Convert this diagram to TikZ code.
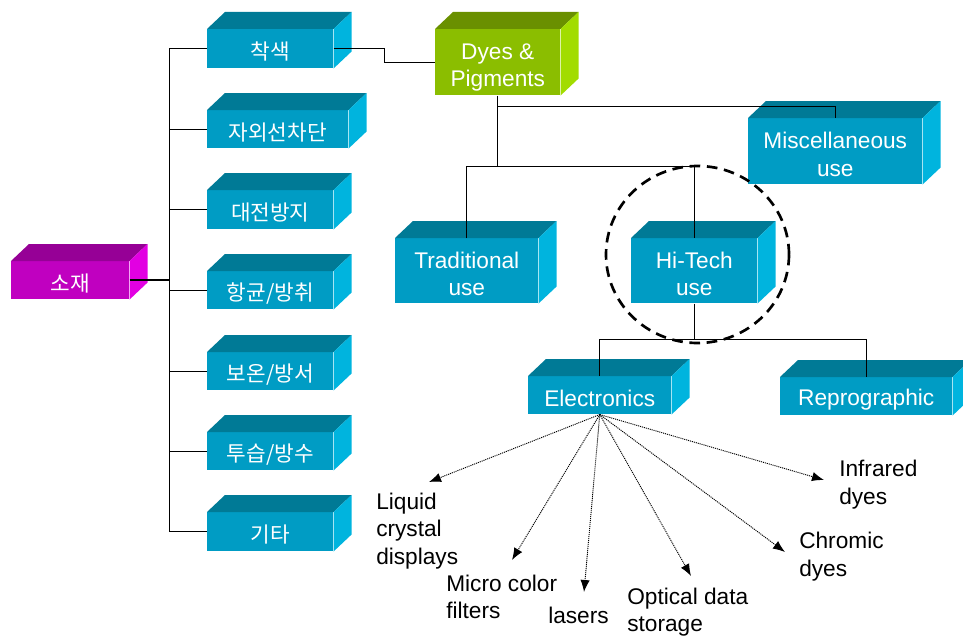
\documentclass[tikz,border=0pt]{standalone}
\usepackage{fontspec}
\setmainfont{Liberation Sans}
\newfontfamily\kr{Noto Sans CJK KR}
\usetikzlibrary{arrows.meta,shapes.geometric}
\definecolor{blueF}{RGB}{0,156,196}
\definecolor{blueT}{RGB}{0,122,150}
\definecolor{blueS}{RGB}{0,180,222}
\definecolor{greenF}{RGB}{139,190,0}
\definecolor{greenT}{RGB}{106,144,0}
\definecolor{greenS}{RGB}{162,220,0}
\definecolor{magF}{RGB}{192,0,192}
\definecolor{magT}{RGB}{150,0,150}
\definecolor{magS}{RGB}{226,0,226}
\tikzset{
  boxnode/.style={rectangle, inner sep=0pt},
  boxtext/.style={inner sep=0pt, text=white, align=center, yshift=-2.25pt,
    font=\fontsize{17}{20.5}\selectfont},
  krnode/.style={font=\fontsize{16}{20}\selectfont\kr},
  conn/.style={draw=black, line width=0.75pt},
  arr/.style={draw=black, line width=0.7pt, dash pattern=on 0.8pt off 0.7pt,
    -{Latex[length=9pt,width=7pt]}},
  lbl/.style={inner sep=0pt, anchor=west, align=left, text=black,
    font=\fontsize{17}{20.5}\selectfont},
}
\newcommand\cube[7][]{%
  \node[boxnode, fill=#3F, minimum width={#5*0.75pt}, minimum height={#6*0.75pt}, anchor=north west] (#2) at (#4) {};
  \fill[#3T] (#2.north west) -- ++(18,-17) -- ([shift={(18,-17)}]#2.north east) -- (#2.north east) -- cycle;
  \fill[#3S] (#2.north east) -- ++(18,-17) -- ([shift={(18,-17)}]#2.south east) -- (#2.south east) -- cycle;
  \node[boxtext, #1] (#2-text) at (#2.center) {#7};
}
\begin{document}
\begin{tikzpicture}[x=0.75pt,y=-0.75pt]
\useasboundingbox (0,0) rectangle (963,635);
% boxes
\cube[krnode]{k1}{blue}{207,29}{126}{39}{착색}
\cube[krnode]{k2}{blue}{207,110}{141}{38}{자외선차단}
\cube[krnode]{k3}{blue}{207,190}{126}{39}{대전방지}
\cube[krnode]{k4}{blue}{207,271}{126}{38}{항균/방취}
\cube[krnode]{k5}{blue}{207,352}{126}{38}{보온/방서}
\cube[krnode]{k6}{blue}{207,432}{126}{38}{투습/방수}
\cube[krnode]{k7}{blue}{207,512}{126}{39}{기타}
\cube[krnode]{sojae}{mag}{11,261}{118}{38}{소재}
\cube[yshift=-1.5pt]{dyes}{green}{435,29}{125}{66}{Dyes \&\\Pigments}
\cube{misc}{blue}{748,118}{174}{66}{Miscellaneous\\use}
\cube{trad}{blue}{395,238}{143}{65}{Traditional\\use}
\cube{hitech}{blue}{631,238}{126}{65}{Hi-Tech\\use}
\cube{elec}{blue}{528,376}{143}{38}{Electronics}
\cube{repro}{blue}{780,377}{172}{38}{Reprographic}
% left tree
\coordinate (t) at (169,0);
\draw[conn] (k1.west) -- (k1.west -| t) -- (k7.west -| t) -- (k7.west);
\foreach \k in {k2,k3,k4,k5,k6} \draw[conn] (\k.west) -- (\k.west -| t);
\draw[conn, line width=1.6pt] (sojae.east) -- (sojae.east -| t);
\draw[conn] (k1.east) -- ++(51,0) |- (dyes.west);
% right tree
\coordinate (j1) at (0,106);
\coordinate (j2) at (0,166);
\coordinate (j3) at (0,339);
\draw[conn] (dyes.south) -- (dyes.south |- j2);
\draw[conn] (dyes.south |- j1) -| (misc.north);
\draw[conn] (trad.north) -- (trad.north |- j2) -- (hitech.north |- j2) -- (hitech.north);
\draw[conn] (hitech.south) -- (hitech.south |- j3);
\draw[conn] (elec.north) -- (elec.north |- j3) -- (repro.north |- j3) -- (repro.north);
% dashed circle
\node[draw=black, line width=2pt, dash pattern=on 8pt off 5pt, ellipse, inner sep=0pt,
  minimum width={183*0.75pt}, minimum height={177*0.75pt}] (circ) at (697.5,254.5) {};
% leaf labels
\node[lbl] (lcd) at (376,531) {Liquid\\crystal\\displays};
\node[lbl] (mcf) at (446,597) {Micro color\\filters};
\node[lbl] (las) at (548,615) {lasers};
\node[lbl] (ods) at (627,612) {Optical data\\storage};
\node[lbl] (chr) at (799,556.5) {Chromic\\dyes};
\node[lbl] (ird) at (839,484.5) {Infrared\\dyes};
% arrow tips
\coordinate (a1) at (429,482);
\coordinate (a2) at (512,560);
\coordinate (a3) at (584,592);
\coordinate (a4) at (691,576);
\coordinate (a5) at (785,552);
\coordinate (a6) at (824,480);
\foreach \a in {a1,a2,a3,a4,a5,a6} \draw[arr] (elec.south) -- (\a);
\end{tikzpicture}
\end{document}
